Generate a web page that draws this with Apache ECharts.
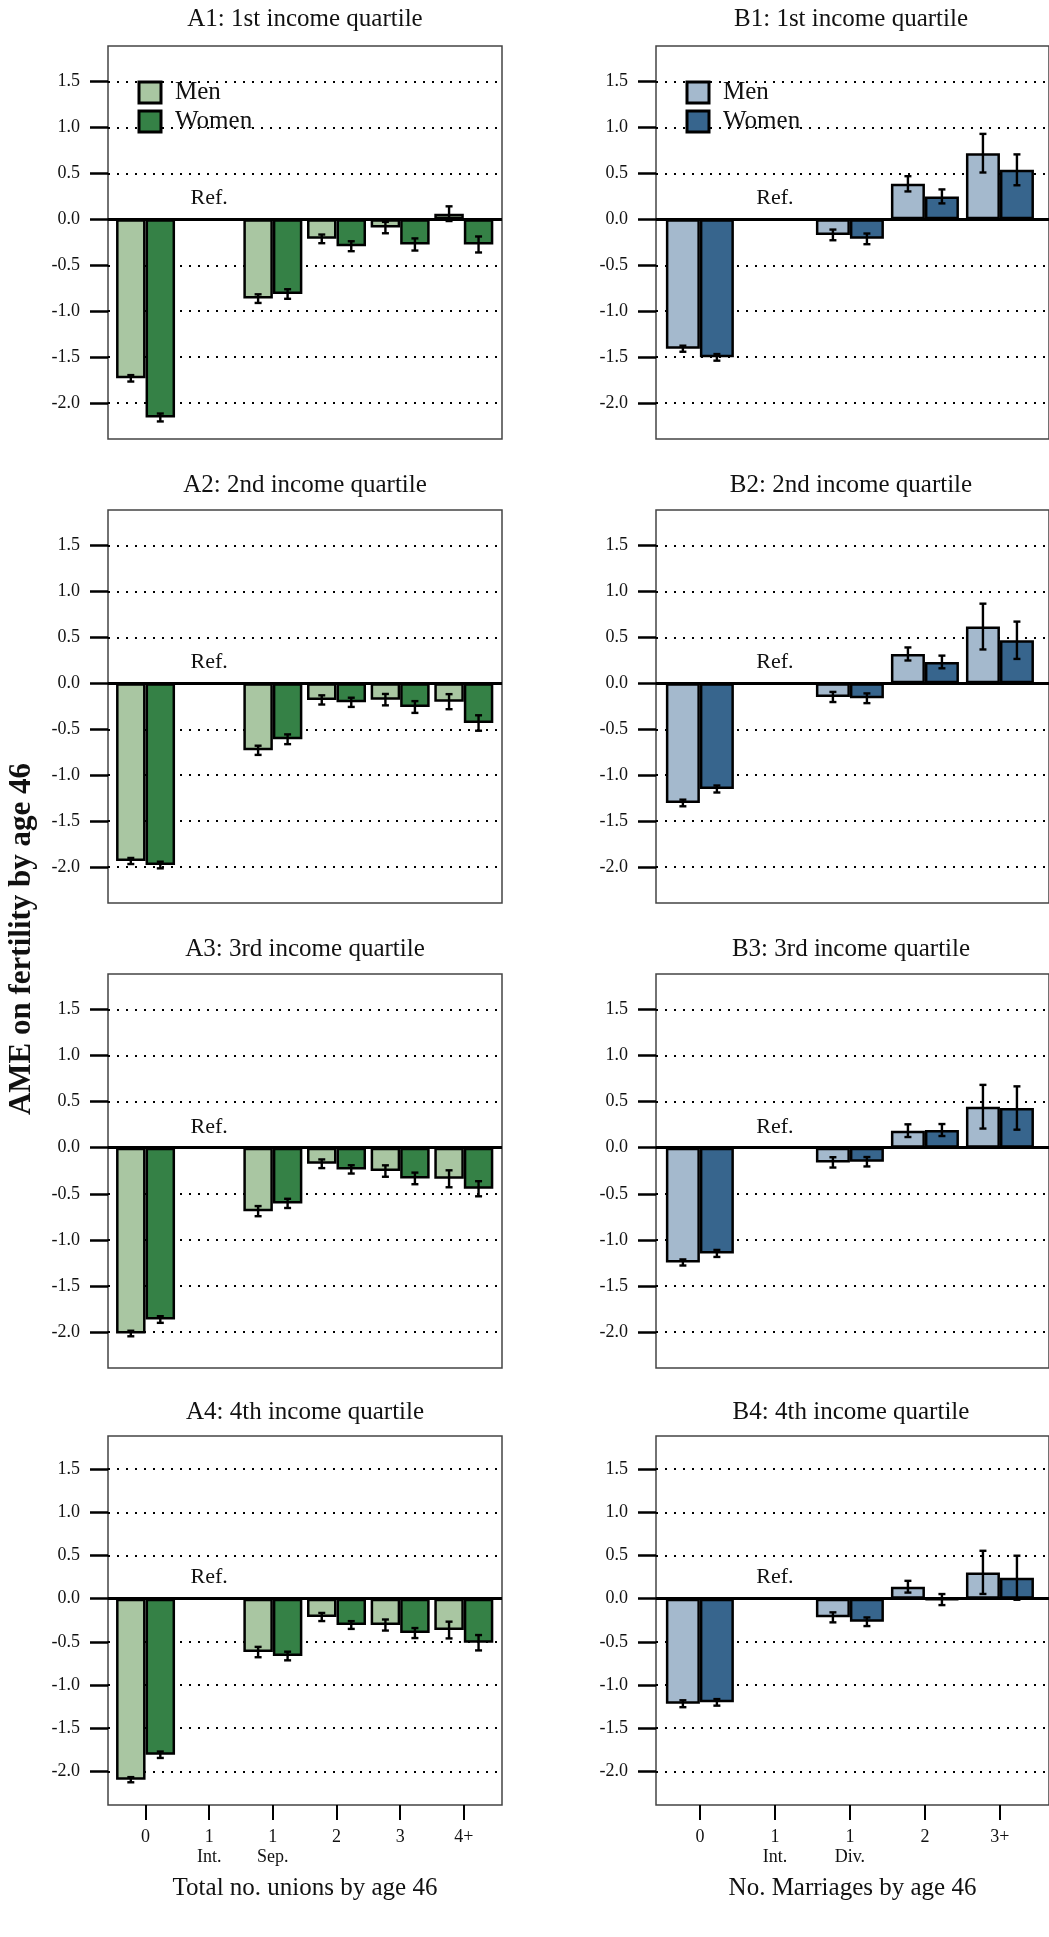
<!DOCTYPE html>
<html>
<head>
<meta charset="utf-8">
<script src="https://cdn.jsdelivr.net/npm/echarts@6/dist/echarts.min.js"></script>
<style>
  html, body { margin: 0; padding: 0; background: #fff; }
  #chart { width: 1049px; height: 1937px; }
</style>
</head>
<body>
<div id="chart"></div>
<script>
// categories
const unionLabels = ['0', '1\nInt.', '1\nSep.', '2', '3', '4+'];
const marriageLabels = ['0', '1\nInt.', '1\nDiv.', '2', '3+'];
const quartileTitles = ['1st income quartile', '2nd income quartile', '3rd income quartile', '4th income quartile'];
const yTicks = [-2, -1.5, -1, -0.5, 0, 0.5, 1, 1.5];

// AME estimates, one row per income quartile; null = reference category
const unionsMen = [
  [-1.73, null, -0.863, -0.213, -0.09, 0.061],
  [-1.933, null, -0.729, -0.181, -0.178, -0.2],
  [-2.016, null, -0.688, -0.174, -0.253, -0.337],
  [-2.097, null, -0.618, -0.212, -0.305, -0.363]
];
const unionsWomen = [
  [-2.156, null, -0.813, -0.293, -0.274, -0.274],
  [-1.977, null, -0.609, -0.207, -0.258, -0.432],
  [-1.864, null, -0.604, -0.235, -0.333, -0.445],
  [-1.808, null, -0.664, -0.305, -0.398, -0.51]
];
const marriagesMen = [
  [-1.408, null, -0.17, 0.386, 0.719],
  [-1.302, null, -0.149, 0.319, 0.617],
  [-1.245, null, -0.159, 0.185, 0.445],
  [-1.217, null, -0.216, 0.139, 0.305]
];
const marriagesWomen = [
  [-1.502, null, -0.213, 0.249, 0.538],
  [-1.15, null, -0.163, 0.232, 0.468],
  [-1.147, null, -0.152, 0.192, 0.431],
  [-1.201, null, -0.267, -0.01, 0.243]
];

// half widths of the 95% confidence intervals
const unionsMenCI = [
  [0.035, null, 0.047, 0.047, 0.062, 0.08],
  [0.033, null, 0.05, 0.05, 0.062, 0.082],
  [0.03, null, 0.055, 0.047, 0.062, 0.092],
  [0.03, null, 0.06, 0.047, 0.064, 0.097]
];
const unionsWomenCI = [
  [0.043, null, 0.052, 0.054, 0.066, 0.087],
  [0.036, null, 0.053, 0.05, 0.064, 0.084],
  [0.036, null, 0.05, 0.045, 0.063, 0.082],
  [0.037, null, 0.05, 0.045, 0.058, 0.089]
];
const marriagesMenCI = [
  [0.033, null, 0.058, 0.083, 0.21],
  [0.036, null, 0.055, 0.071, 0.249],
  [0.033, null, 0.056, 0.069, 0.237],
  [0.04, null, 0.058, 0.068, 0.25]
];
const marriagesWomenCI = [
  [0.036, null, 0.058, 0.076, 0.168],
  [0.038, null, 0.053, 0.069, 0.203],
  [0.038, null, 0.051, 0.065, 0.235],
  [0.038, null, 0.05, 0.064, 0.255]
];

const FONT = '"Liberation Serif", "Times New Roman", serif';

// layout
const rowTop = [46, 510, 974, 1436];
const rowHeight = [393, 393, 394, 369];
const titleY = [19, 485, 949, 1412];
const boxWidth = 394;

const columns = [
  {
    key: 'A', left: 108, xMin: -0.59, xMax: 5.6, barWidth: 29.5,
    labels: unionLabels, men: unionsMen, women: unionsWomen,
    menCI: unionsMenCI, womenCI: unionsWomenCI,
    colors: ['#a9c6a2', '#358146'], axisName: 'Total no. unions by age 46'
  },
  {
    key: 'B', left: 656, xMin: -0.585, xMax: 4.654, barWidth: 34,
    labels: marriageLabels, men: marriagesMen, women: marriagesWomen,
    menCI: marriagesMenCI, womenCI: marriagesWomenCI,
    colors: ['#a4b9cd', '#37658d'], axisName: 'No. Marriages by age 46'
  }
];

const chart = echarts.init(document.getElementById('chart'));

const grids = [], xAxes = [], yAxes = [], series = [], titles = [], legends = [];

function errorBarRenderer(halfSep) {
  return function (params, api) {
    const lo = api.coord([api.value(0), api.value(1)]);
    const hi = api.coord([api.value(0), api.value(2)]);
    const cx = lo[0] + api.value(3) * halfSep;
    const cap = 3.5;
    const st = { stroke: '#000', lineWidth: 2.4 };
    return {
      type: 'group',
      children: [
        { type: 'line', shape: { x1: cx, y1: lo[1], x2: cx, y2: hi[1] }, style: st },
        { type: 'line', shape: { x1: cx - cap, y1: lo[1], x2: cx + cap, y2: lo[1] }, style: st },
        { type: 'line', shape: { x1: cx - cap, y1: hi[1], x2: cx + cap, y2: hi[1] }, style: st }
      ]
    };
  };
}

for (let r = 0; r < 4; r++) {
  columns.forEach(function (col, c) {
    const g = grids.length;
    const bottom = r === 3;
    const catIdx = col.labels.map(function (_, i) { return i; });

    grids.push({
      left: col.left, top: rowTop[r], width: boxWidth, height: rowHeight[r],
      show: true, borderColor: '#444', borderWidth: 1.5
    });

    titles.push({
      text: col.key + (r + 1) + ': ' + quartileTitles[r],
      left: col.left + boxWidth / 2 - (c === 1 ? 2 : 0), top: titleY[r],
      textAlign: 'center', textVerticalAlign: 'middle', padding: 0,
      textStyle: { fontFamily: FONT, fontSize: 25, fontWeight: 'normal', color: '#111' }
    });

    xAxes.push({
      type: 'value', gridIndex: g, min: col.xMin, max: col.xMax,
      axisLine: { show: false, onZero: false },
      splitLine: { show: false },
      axisTick: { show: bottom, customValues: catIdx, length: 15, lineStyle: { color: '#000', width: 2 } },
      axisLabel: {
        show: bottom, customValues: catIdx, margin: 22,
        formatter: function (v) { return col.labels[Math.round(v)]; },
        fontFamily: FONT, fontSize: 18, lineHeight: 20, color: '#111'
      },
      name: bottom ? col.axisName : '',
      nameLocation: 'middle', nameGap: 71,
      nameTextStyle: { fontFamily: FONT, fontSize: 25, color: '#111' }
    });

    yAxes.push({
      type: 'value', gridIndex: g, min: -2.39, max: 1.885,
      axisLine: { show: false, onZero: false },
      axisTick: { show: true, inside: false, customValues: yTicks, length: 18, lineStyle: { color: '#000', width: 2.5 } },
      axisLabel: {
        customValues: yTicks, margin: 28,
        formatter: function (v) { return v.toFixed(1); },
        fontFamily: FONT, fontSize: 18, color: '#111'
      },
      splitLine: { show: true, lineStyle: { color: '#000', width: 2, type: [2, 7] } }
    });

    const sexes = [
      { name: 'Men', vals: col.men[r], ci: col.menCI[r], color: col.colors[0], side: -1 },
      { name: 'Women', vals: col.women[r], ci: col.womenCI[r], color: col.colors[1], side: 1 }
    ];
    const errData = [];
    sexes.forEach(function (s, k) {
      const bar = {
        type: 'bar', name: s.name, xAxisIndex: g, yAxisIndex: g,
        data: s.vals.map(function (v, i) { return [i, v]; }),
        barWidth: col.barWidth, barGap: 0,
        itemStyle: { color: s.color, borderColor: '#000', borderWidth: 2.5 },
        silent: true
      };
      if (k === 0) {
        bar.markLine = {
          silent: true, symbol: ['none', 'none'], label: { show: false },
          lineStyle: { color: '#000', width: 3, type: 'solid' },
          data: [{ yAxis: 0 }]
        };
      }
      series.push(bar);
      s.vals.forEach(function (v, i) {
        if (v !== null) errData.push([i, v - s.ci[i], v + s.ci[i], s.side]);
      });
    });

    series.push({
      type: 'custom', xAxisIndex: g, yAxisIndex: g, silent: true, z: 5,
      renderItem: errorBarRenderer(col.barWidth / 2),
      encode: { x: 0, y: [1, 2] },
      data: errData
    });

    // the reference category sits at zero
    series.push({
      type: 'scatter', xAxisIndex: g, yAxisIndex: g, silent: true,
      symbolSize: 0, itemStyle: { color: '#000', opacity: 1 },
      label: {
        show: true, position: 'top', distance: 10, formatter: 'Ref.',
        fontFamily: FONT, fontSize: 22, color: '#111'
      },
      data: [[1, 0]]
    });

    if (r === 0) {
      legends.push({
        left: col.left + 29.5, top: 79, orient: 'vertical', padding: 0,
        itemWidth: 22, itemHeight: 21, itemGap: 2, icon: 'rect', selectedMode: false,
        textStyle: { fontFamily: FONT, fontSize: 25, color: '#111', lineHeight: 24, padding: [3, 0, 0, 9] },
        data: sexes.map(function (s) {
          return { name: s.name, itemStyle: { color: s.color, borderColor: '#000', borderWidth: 3 } };
        })
      });
    }
  });
}

chart.setOption({
  animation: false,
  backgroundColor: '#fff',
  title: titles,
  legend: legends,
  grid: grids,
  xAxis: xAxes,
  yAxis: yAxes,
  series: series,
  graphic: [{
    type: 'text', x: 22, y: 939, rotation: Math.PI / 2, silent: true,
    style: {
      text: 'AME on fertility by age 46', fill: '#111',
      font: 'bold 31px "Liberation Serif", "Times New Roman", serif',
      textAlign: 'center', textVerticalAlign: 'middle'
    }
  }]
});
</script>
</body>
</html>
